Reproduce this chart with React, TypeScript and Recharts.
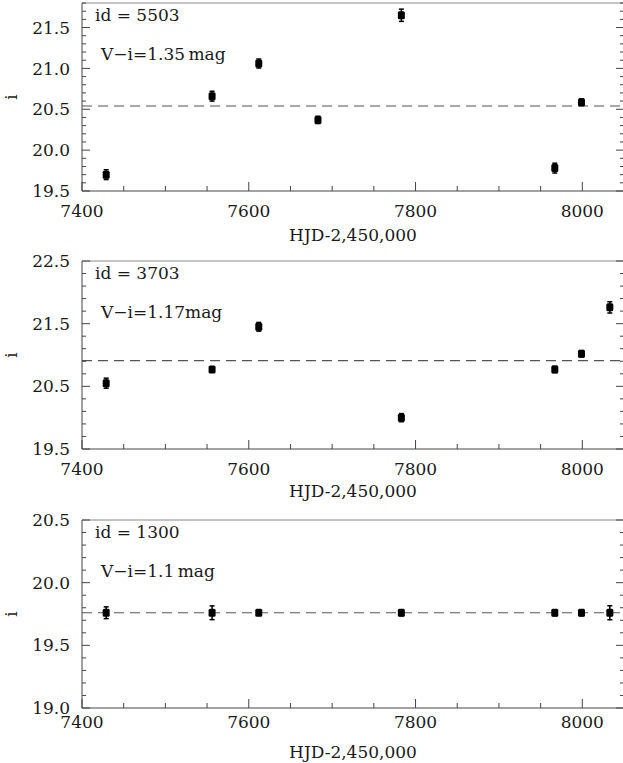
import { ErrorBar, ReferenceLine, Scatter, ScatterChart, XAxis, YAxis } from "recharts";

// light curves: HJD-2,450,000, i magnitude and its error
const hjd5503 = [7429, 7556, 7612, 7683, 7783, 7967, 7999];
const mag5503 = [19.7, 20.66, 21.06, 20.37, 21.65, 19.78, 20.585];
const err5503 = [0.06, 0.06, 0.055, 0.045, 0.075, 0.06, 0.04];
const mean5503 = 20.54;

const hjd3703 = [7429, 7556, 7612, 7783, 7967, 7999, 8033];
const mag3703 = [20.55, 20.77, 21.45, 20.0, 20.77, 21.02, 21.76];
const err3703 = [0.08, 0.04, 0.07, 0.065, 0.05, 0.05, 0.09];
const mean3703 = 20.91;

const hjd1300 = [7429, 7556, 7612, 7783, 7967, 7999, 8033];
const mag1300 = [19.76, 19.76, 19.76, 19.76, 19.76, 19.76, 19.76];
const err1300 = [0.047, 0.055, 0.02, 0.024, 0.024, 0.024, 0.056];
const mean1300 = 19.76;

const xMajor = [7400, 7600, 7800, 8000];
const yMajor5503 = [19.5, 20.0, 20.5, 21.0, 21.5];
const yMajor3703 = [19.5, 20.5, 21.5, 22.5];
const yMajor1300 = [19.0, 19.5, 20.0, 20.5];

const FONT = "'DejaVu Serif', serif";
const INK = "#1a1a1a";
const FRAME = "#444";
const X_DOMAIN: [number, number] = [7400, 8050];
const PAD_TOP = 12; // room above the frame for the top tick label
const PLOT_H = 188;
const CHART_W = 626;
const CHART_H = PAD_TOP + 1 + PLOT_H + 62;

const r2 = (v: number) => Math.round(v * 100) / 100;
const steps = (lo: number, hi: number, step: number) => {
  const out: number[] = [];
  for (let v = lo; v <= hi + 1e-9; v += step) out.push(r2(v));
  return out;
};
const xTicks = steps(7400, 8050, 50);

const bottomTick = (gap: number) => (p: any) => {
  const v = r2(p.payload.value);
  const major = xMajor.includes(v);
  return (
    <g>
      <line x1={p.x} x2={p.x} y1={p.y} y2={p.y - (major ? 9 : 5)} stroke={FRAME} />
      {major && (
        <text x={p.x} y={p.y + gap} textAnchor="middle" fontSize={17} fontFamily={FONT} fill={INK}>
          {v}
        </text>
      )}
    </g>
  );
};

const topTick = (p: any) => {
  const major = xMajor.includes(r2(p.payload.value));
  return <line x1={p.x} x2={p.x} y1={p.y} y2={p.y + (major ? 8 : 4)} stroke={FRAME} />;
};

const leftTick = (majors: number[]) => (p: any) => {
  const v = r2(p.payload.value);
  const major = majors.includes(v);
  return (
    <g>
      <line x1={p.x} x2={p.x + (major ? 8 : 4)} y1={p.y} y2={p.y} stroke={FRAME} />
      {major && (
        <text x={p.x - 12} y={p.y} dy="0.36em" textAnchor="end" fontSize={17} fontFamily={FONT} fill={INK}>
          {v.toFixed(1)}
        </text>
      )}
    </g>
  );
};

const rightTick = (majors: number[]) => (p: any) => {
  const major = majors.includes(r2(p.payload.value));
  return <line x1={p.x} x2={p.x - (major ? 8 : 4)} y1={p.y} y2={p.y} stroke={FRAME} />;
};

const square = (p: any) => <rect x={p.cx - 3.5} y={p.cy - 4} width={7} height={8} rx={1.5} fill="#000" />;

type PanelProps = {
  plotTop: number;
  hjd: number[];
  mag: number[];
  err: number[];
  mean: number;
  yDomain: [number, number];
  yStep: number;
  yMajor: number[];
  id: string;
  color: string;
  tickGap: number;
  titleGap: number;
};

function Panel(props: PanelProps) {
  const { plotTop, hjd, mag, err, mean, yDomain, yStep, yMajor, id, color, tickGap, titleGap } = props;
  const data = hjd.map((x, i) => ({ hjd: x, mag: mag[i], err: err[i] }));
  const yTicks = steps(yDomain[0], yDomain[1], yStep);
  const top = plotTop - PAD_TOP - 1;
  return (
    <div style={{ position: "absolute", left: 0, top, width: CHART_W, height: CHART_H }}>
      <ScatterChart width={CHART_W} height={CHART_H} margin={{ top: PAD_TOP, right: 0, bottom: 0, left: 0 }}>
        <XAxis
          xAxisId="b"
          dataKey="hjd"
          type="number"
          domain={X_DOMAIN}
          allowDataOverflow
          ticks={xTicks}
          interval={0}
          tickLine={false}
          tickSize={0}
          tickMargin={0}
          axisLine={{ stroke: FRAME }}
          tick={bottomTick(tickGap)}
          height={62}
          label={{
            value: "HJD-2,450,000",
            position: "insideBottom",
            offset: 62 - titleGap,
            fontSize: 17,
            fontFamily: FONT,
            fill: INK,
          }}
        />
        <XAxis
          xAxisId="t"
          orientation="top"
          type="number"
          domain={X_DOMAIN}
          allowDataOverflow
          ticks={xTicks}
          interval={0}
          tickLine={false}
          tickSize={0}
          tickMargin={0}
          axisLine={{ stroke: "#888" }}
          tick={topTick}
          height={1}
        />
        <YAxis
          yAxisId="l"
          dataKey="mag"
          type="number"
          domain={yDomain}
          allowDataOverflow
          ticks={yTicks}
          interval={0}
          tickLine={false}
          tickSize={0}
          tickMargin={0}
          axisLine={{ stroke: FRAME }}
          tick={leftTick(yMajor)}
          width={82}
          label={{
            value: "i",
            angle: -90,
            position: "insideLeft",
            offset: 11,
            fontSize: 17,
            fontFamily: FONT,
            fill: INK,
            style: { textAnchor: "middle" },
          }}
        />
        <YAxis
          yAxisId="r"
          orientation="right"
          type="number"
          domain={yDomain}
          allowDataOverflow
          ticks={yTicks}
          interval={0}
          tickLine={false}
          tickSize={0}
          tickMargin={0}
          axisLine={{ stroke: FRAME }}
          tick={rightTick(yMajor)}
          width={2}
        />
        <ReferenceLine
          xAxisId="b"
          yAxisId="l"
          y={mean}
          stroke="#555"
          strokeWidth={1.2}
          strokeDasharray="10 6"
        />
        <Scatter xAxisId="b" yAxisId="l" data={data} shape={square} isAnimationActive={false}>
          <ErrorBar dataKey="err" direction="y" width={2.5} stroke="#000" strokeWidth={1.5} isAnimationActive={false} />
        </Scatter>
      </ScatterChart>
      <svg
        width={CHART_W}
        height={CHART_H}
        style={{ position: "absolute", left: 0, top: 0, pointerEvents: "none" }}
      >
        <text x={95} y={PAD_TOP + 1 + 18} fontSize={17} fontFamily={FONT} fill={INK}>
          {id}
        </text>
        <text x={101} y={PAD_TOP + 1 + 56.5} fontSize={17} fontFamily={FONT} fill={INK}>
          {color}
        </text>
      </svg>
    </div>
  );
}

export default function App() {
  return (
    <div
      style={{
        position: "absolute",
        left: 0,
        top: 0,
        width: 623,
        height: 763,
        overflow: "hidden",
        background: "#fff",
      }}
    >
      <Panel
        plotTop={3}
        hjd={hjd5503}
        mag={mag5503}
        err={err5503}
        mean={mean5503}
        yDomain={[19.5, 21.8]}
        yStep={0.1}
        yMajor={yMajor5503}
        id="id = 5503"
        color={"V\u2212i=1.35\u2009mag"}
        tickGap={26}
        titleGap={50}
      />
      <Panel
        plotTop={261}
        hjd={hjd3703}
        mag={mag3703}
        err={err3703}
        mean={mean3703}
        yDomain={[19.5, 22.5]}
        yStep={0.2}
        yMajor={yMajor3703}
        id="id = 3703"
        color={"V\u2212i=1.17mag"}
        tickGap={26}
        titleGap={48}
      />
      <Panel
        plotTop={520}
        hjd={hjd1300}
        mag={mag1300}
        err={err1300}
        mean={mean1300}
        yDomain={[19.0, 20.5]}
        yStep={0.1}
        yMajor={yMajor1300}
        id="id = 1300"
        color={"V\u2212i=1.1\u2009mag"}
        tickGap={20}
        titleGap={50}
      />
    </div>
  );
}
